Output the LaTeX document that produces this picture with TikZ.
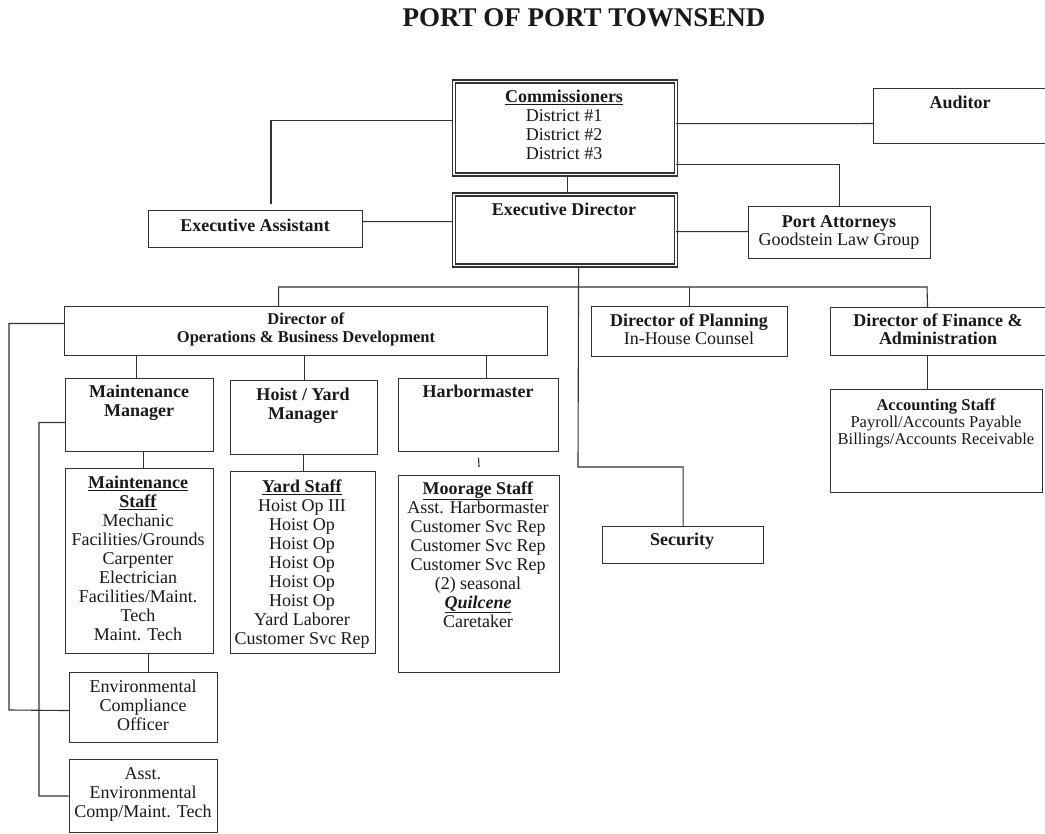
\documentclass[tikz,border=0pt]{standalone}
\usepackage{fontspec}
\setmainfont{Liberation Serif}
\begin{document}
\begin{tikzpicture}[x=1pt,y=-1pt,
  box/.style={draw=black!80, line width=1.1pt, rectangle, inner sep=0pt, anchor=north west, fill=white},
  dbox/.style={draw=black!80, line width=1.2pt, double=white, double distance=1.8pt, rectangle, inner sep=0pt, anchor=north west, fill=white},
  conn/.style={draw=black!80, line width=1.1pt},
  txt/.style={align=center, inner sep=0pt, anchor=north, text=black!90, font=\fontsize{18}{19}\selectfont},
  tpa/.style={txt, font=\fontsize{18}{18}\selectfont},
  tops/.style={txt, font=\fontsize{16.5}{18}\selectfont},
  tacc/.style={txt, font=\fontsize{16.5}{17}\selectfont},
  ttitle/.style={txt, font=\fontsize{27}{30}\selectfont\bfseries}]
\useasboundingbox (0,0) rectangle (1045,834);

% boxes
\node[dbox, minimum width=222pt, minimum height=93pt] (comm) at (453,81) {};
\node[dbox, minimum width=222pt, minimum height=71pt] (ed) at (453,194) {};
\node[box, minimum width=175pt, minimum height=55pt] (aud) at (873,88) {};
\node[box, minimum width=214pt, minimum height=37pt] (ea) at (148,210) {};
\node[box, minimum width=182pt, minimum height=52pt] (pa) at (748,206) {};
\node[box, minimum width=483pt, minimum height=49pt] (dops) at (64,306) {};
\node[box, minimum width=196pt, minimum height=50pt] (dplan) at (591,306) {};
\node[box, minimum width=217pt, minimum height=48pt] (dfin) at (830,307) {};
\node[box, minimum width=212pt, minimum height=103pt] (acct) at (830,389) {};
\node[box, minimum width=148pt, minimum height=73pt] (mm) at (65,378) {};
\node[box, minimum width=147pt, minimum height=74pt] (hym) at (230,380) {};
\node[box, minimum width=160pt, minimum height=73pt] (hm) at (398,378) {};
\node[box, minimum width=148pt, minimum height=185pt] (ms) at (65,468) {};
\node[box, minimum width=145pt, minimum height=182pt] (ys) at (230,471) {};
\node[box, minimum width=161pt, minimum height=197pt] (moor) at (398,475) {};
\node[box, minimum width=148pt, minimum height=70pt] (env) at (69,672) {};
\node[box, minimum width=148pt, minimum height=73pt] (aenv) at (69,759) {};
\node[box, minimum width=161pt, minimum height=37pt] (sec) at (602,526) {};

% free ends and bends
\coordinate (eaup) at (271,204);
\coordinate (secbend) at (578,467);
\coordinate (busR) at (927,287);
\coordinate (outerL) at (9,710);
\coordinate (innerL) at (39,796);

% connectors
\draw[conn] ([yshift=7.5pt]comm.west) -| (eaup);
\draw[conn] ([yshift=7.5pt]ea.east) -- ([yshift=8.5pt]ed.west);
\draw[conn] ([yshift=4.5pt]comm.east) -- ([yshift=-7.5pt]aud.west);
\draw[conn] ([yshift=-36.5pt]comm.east) -| (pa.north);
\draw[conn] ([yshift=-1.5pt]ed.east) -- ([yshift=1pt]pa.west);
\draw[conn] ([xshift=3pt]comm.south) -- ([xshift=3pt]ed.north);
\draw[conn] ([xshift=14pt]ed.south) -- (secbend) -| (sec.north);
\draw[conn] ([xshift=-27.5pt]dops.north) |- (busR) -- ([xshift=-11.5pt]dfin.north);
\draw[conn] (dplan.north) -- (dplan.north |- busR);
\draw[conn] ([yshift=7.5pt]dops.west) -| (outerL) -- ([yshift=-3pt]env.west);
\draw[conn] ([yshift=-7.5pt]mm.west) -| (innerL) -- (aenv.west);
\draw[conn] ([xshift=-169.5pt]dops.south) -- ([xshift=-3pt]mm.north);
\draw[conn] (hym.north) -- (hym.north |- dops.south);
\draw[conn] ([xshift=8pt]hm.north) -- ([xshift=8pt]hm.north |- dops.south);
\draw[conn] ([xshift=4pt]mm.south) -- ([xshift=4pt]ms.north);
\draw[conn] (ys.north) -- (ys.north |- hym.south);
\draw[conn] ([yshift=-6pt]hm.south) -- ([yshift=8pt]moor.north);
\draw[conn] ([xshift=9pt]ms.south) -- ([xshift=5pt]env.north);
\draw[conn] ([xshift=-12pt]dfin.south) -- ([xshift=-12pt]dfin.south |- acct.north);

% texts
\node[ttitle] (title) at (584,5) {\strut PORT OF PORT TOWNSEND};
\node[txt] (tcomm) at (564,88.7) {\strut\underline{\textbf{Commissioners}}\\District \#1\\District \#2\\District \#3};
\node[txt] (ted) at (564,201.7) {\strut\textbf{Executive Director}};
\node[txt] (taud) at (960,94.7) {\strut\textbf{Auditor}};
\node[txt] (tea) at (255,217.7) {\strut\textbf{Executive Assistant}};
\node[tpa] (tpa) at (839,214.4) {\strut\textbf{Port Attorneys}\\Goodstein Law Group};
\node[tops] (tdops) at (306,311.4) {\strut\textbf{Director of}\\\textbf{Operations \& Business Development}};
\node[tpa] (tdplan) at (689,313.4) {\strut\textbf{Director of Planning}\\In-House Counsel};
\node[tpa] (tdfin) at (938,313.4) {\strut\textbf{Director of Finance \&}\\\textbf{Administration}};
\node[tacc] (tacct) at (936,398.1) {\strut\textbf{Accounting Staff}\\Payroll/Accounts Payable\\Billings/Accounts Receivable};
\node[txt] (tmm) at (139,383.7) {\strut\textbf{Maintenance}\\\textbf{Manager}};
\node[txt] (thym) at (303,386.7) {\strut\textbf{Hoist / Yard}\\\textbf{Manager}};
\node[txt] (thm) at (478,383.7) {\strut\textbf{Harbormaster}};
\node[txt] (tms) at (138,474.7) {\strut\underline{\textbf{Maintenance}}\\\underline{\textbf{Staff}}\\Mechanic\\Facilities/Grounds\\Carpenter\\Electrician\\Facilities/Maint.\\Tech\\Maint. Tech};
\node[txt] (tys) at (302,478.7) {\strut\underline{\textbf{Yard Staff}}\\Hoist Op III\\Hoist Op\\Hoist Op\\Hoist Op\\Hoist Op\\Hoist Op\\Yard Laborer\\Customer Svc Rep};
\node[txt] (tmoor) at (478,480.7) {\strut\underline{\textbf{Moorage Staff}}\\Asst. Harbormaster\\Customer Svc Rep\\Customer Svc Rep\\Customer Svc Rep\\(2) seasonal\\\underline{\textbf{\textit{Quilcene}}}\\Caretaker};
\node[txt] (tenv) at (143,678.7) {\strut Environmental\\Compliance\\Officer};
\node[txt] (taenv) at (143,765.7) {\strut Asst.\\Environmental\\Comp/Maint. Tech};
\node[txt] (tsec) at (682,531.7) {\strut\textbf{Security}};
\end{tikzpicture}
\end{document}
